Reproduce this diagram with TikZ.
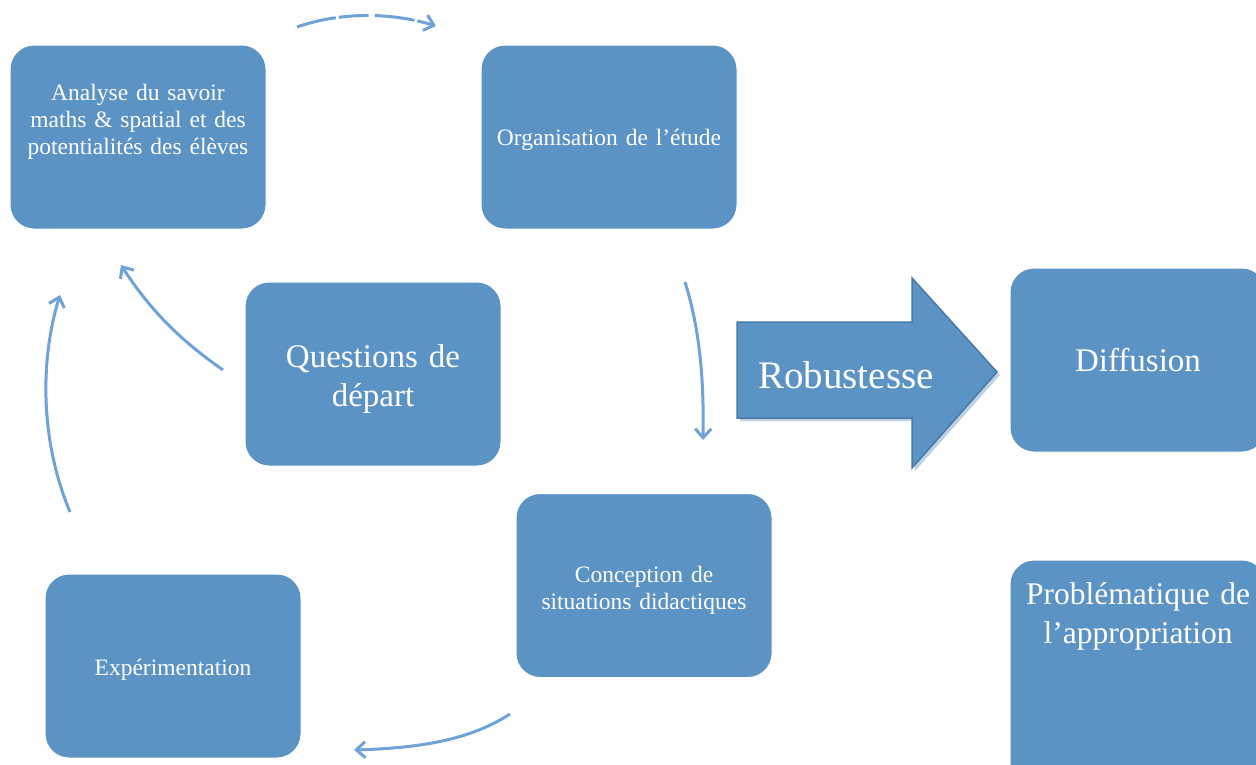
\documentclass[tikz,border=0pt]{standalone}
\usepackage{fontspec}
\setmainfont{Liberation Serif}
\usetikzlibrary{arrows.meta}
\definecolor{boxblue}{HTML}{5B93C5}
\definecolor{arrblue}{HTML}{6FA2D6}
\definecolor{edgeblue}{HTML}{4A79A8}
\tikzset{
  box/.style={fill=boxblue, draw=white, line width=1pt, rounded corners=24pt,
    minimum width=256pt, minimum height=184pt, inner sep=0pt, text=white,
    align=center, text width=250pt},
  small/.style={font=\fontsize{23.5}{27}\selectfont},
  big/.style={font=\fontsize{33}{39}\selectfont},
  curv/.style={draw=arrblue, line width=3pt, -{Straight Barb[length=9pt,width=16pt,line width=3pt]}},
}
\begin{document}
\begin{tikzpicture}[x=1pt,y=-1pt]
\useasboundingbox (0,0) rectangle (1256,764);
\begin{scope}
\clip (0,0) rectangle (1256,764);
% boxes
\node[box, small] (ana) at (138,137) {Analyse du savoir\\maths \& spatial et des\\potentialités des élèves\\[9pt]\mbox{}};
\node[box, small] (org) at (609,137) {\mbox{}\\[-4pt]Organisation de l’étude};
\node[box, big] (que) at (373,374) {\mbox{}\\[-5pt]Questions de\\départ};
\node[box, small] (con) at (644,585.5) {\mbox{}\\[-1pt]Conception de\\situations didactiques};
\node[box, small] (exp) at (173,666) {\mbox{}\\[-3pt]Expérimentation};
\node[box, big] (dif) at (1138,360) {Diffusion};
\node[box, big, font=\fontsize{31.5}{39}\selectfont, minimum height=240pt] (pro) at (1138,680) {Problématique de\\l’appropriation\\[94pt]\mbox{}};
% Robustesse arrow
\coordinate (r1) at (737,322);
\coordinate (r2) at (912,322);
\coordinate (r3) at (912,278);
\coordinate (r4) at (997,372);
\coordinate (r5) at (912,468);
\coordinate (r6) at (912,418);
\coordinate (r7) at (737,418);
\fill[edgeblue!70, opacity=0.5] ([shift={(3,3)}]r1) -- ([shift={(3,3)}]r2) -- ([shift={(3,3)}]r3) -- ([shift={(3,3)}]r4) -- ([shift={(3,3)}]r5) -- ([shift={(3,3)}]r6) -- ([shift={(3,3)}]r7) -- cycle;
\filldraw[fill=boxblue, draw=edgeblue, line width=1.5pt, line join=miter] (r1) -- (r2) -- (r3) -- (r4) -- (r5) -- (r6) -- (r7) -- cycle;
\node[text=white, font=\fontsize{39}{42}\selectfont] (rob) at (846,375) {Robustesse};
% curved arrows
\coordinate (a1s) at (297,27);
\coordinate (a1e) at (436,26);
\draw[curv, dash pattern=on 40pt off 3pt on 30pt off 6pt] (a1s) .. controls (340,12) and (390,12) .. (a1e);
\coordinate (a2s) at (685,282);
\coordinate (a2e) at (703,440);
\draw[curv] (a2s) .. controls (700,330) and (704,380) .. (a2e);
\coordinate (a3s) at (510,714);
\coordinate (a3e) at (354,750);
\draw[curv] (a3s) .. controls (470,740) and (420,748) .. (a3e);
\coordinate (a4s) at (70,512);
\coordinate (a4e) at (60,295);
\draw[curv] (a4s) .. controls (40,440) and (40,360) .. (a4e);
\coordinate (a5s) at (223,370);
\coordinate (a5e) at (121,265);
\draw[curv] (a5s) .. controls (180,340) and (150,310) .. (a5e);
\end{scope}
\end{tikzpicture}
\end{document}
